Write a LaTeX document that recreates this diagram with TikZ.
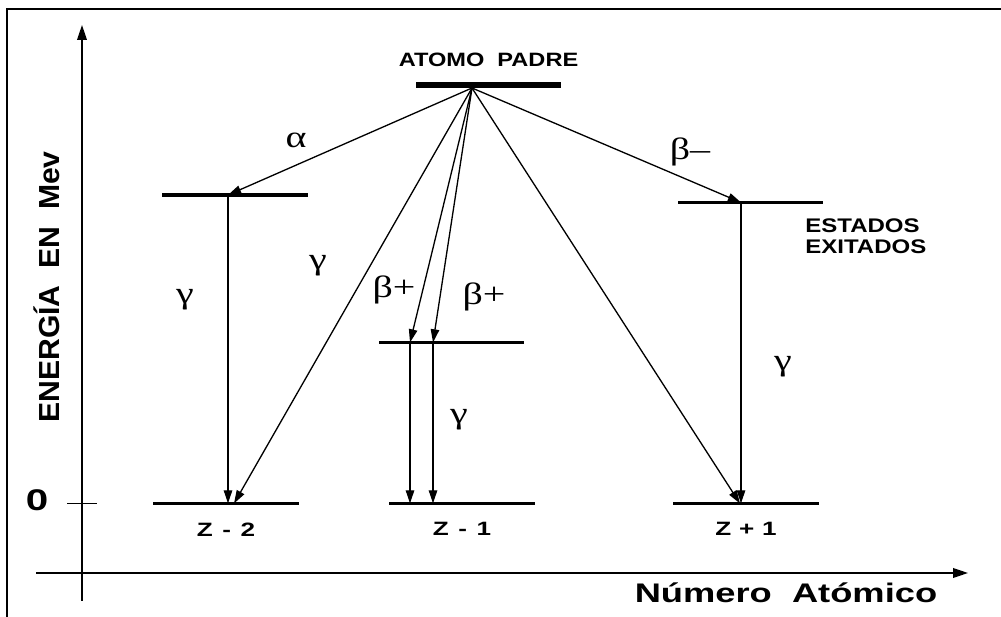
\documentclass[tikz,border=0pt]{standalone}
\usepackage{fontspec}
\setmainfont{Liberation Sans}
\newfontfamily\rotulo[FakeStretch=1.22]{Liberation Sans}
\newfontfamily\ancho[FakeStretch=1.35]{Liberation Sans}
\newfontfamily\eje[FakeStretch=1.04]{Liberation Sans}
\newfontfamily\griego[FakeStretch=1.3]{Liberation Serif}
\usetikzlibrary{arrows.meta, positioning}

\begin{document}
\begin{tikzpicture}[x=0.02cm, y=-0.02cm,
  nivel/.style={fill=black, inner sep=0pt, minimum width=2.92cm, minimum height=0.075cm},
  decae/.style={-{Triangle[length=7.5pt, width=4.8pt]}, line width=0.75pt},
  ejes/.style={-{Triangle[length=8.5pt, width=5.5pt]}, line width=0.9pt},
  griega/.style={inner sep=0pt, font=\griego\fontsize{17.5}{20}\selectfont},
  etiq/.style={inner sep=0pt, font=\ancho\bfseries\fontsize{11}{12.5}\selectfont}]
  \useasboundingbox (0,0) rectangle (1001,617);
  \clip (0,0) rectangle (1001,617);
  \draw [line width=1.4pt] (7,9) rectangle (1015,640);

  % ejes
  \coordinate (ybajo) at (82,601);
  \coordinate (yalto) at (82,25);
  \coordinate (xizq) at (36,573);
  \coordinate (xder) at (968,573);
  \coordinate (cero) at (67,503.5);
  \coordinate (cerob) at (97,503.5);
  \draw [ejes] (ybajo) -- (yalto);
  \draw [ejes] (xizq) -- (xder);
  \draw [line width=0.8pt] (cero) -- (cerob);
  \node [inner sep=0pt, font=\ancho\bfseries\fontsize{17}{18}\selectfont] (lcero) at (37,500.5) {0};
  \node [inner sep=0pt, anchor=base, rotate=90, font=\eje\bfseries\fontsize{16.5}{18}\selectfont] (energia) at (59,287) {ENERGÍA\ \ EN\ \ Mev};
  \node [inner sep=0pt, anchor=base, font=\ancho\bfseries\fontsize{15.3}{17}\selectfont] (numero) at (786,603) {Número\ \ Atómico};

  % niveles
  \node [nivel, minimum height=0.12cm] (padre) at (488.5,85.5) {};
  \node [inner sep=0pt, font=\rotulo\bfseries\fontsize{11}{13}\selectfont, above=0.31cm of padre] {ATOMO\ \ PADRE};
  \node [nivel] (zmexc) at (235,195) {};
  \node [nivel] (zmbase) at (226,503.5) {};
  \node [nivel] (zuexc) at (451.5,342.5) {};
  \node [nivel] (zubase) at (462,503.5) {};
  \node [nivel] (zpexc) at (750.5,202.5) {};
  \node [nivel] (zpbase) at (746,503.5) {};
  \node [etiq, below=0.33cm of zmbase] {Z\hspace{0.5em}-\hspace{0.5em}2};
  \node [etiq, below=0.33cm of zubase] {Z\hspace{0.5em}-\hspace{0.5em}1};
  \node [etiq, below=0.33cm of zpbase] {Z\hspace{0.4em}+\hspace{0.4em}1};
  \node [inner sep=0pt, font=\rotulo\bfseries\fontsize{11.2}{12.3}\selectfont, anchor=north west, align=left] (exitados) at (805,218) {ESTADOS\\EXITADOS};

  % puntos de llegada
  \coordinate (emision) at (472,88);
  \coordinate (alfa) at (228,195);
  \coordinate (alfab) at (228,503.5);
  \coordinate (gdirecta) at (234,503.5);
  \coordinate (bmasa) at (410,342.5);
  \coordinate (bmasb) at (433,342.5);
  \coordinate (bmasc) at (410,503.5);
  \coordinate (bmasd) at (433,503.5);
  \coordinate (bmenos) at (741,202.5);
  \coordinate (bmenosb) at (741,503.5);
  \coordinate (pdirecta) at (740,503.5);

  % desintegraciones
  \draw [decae] (emision) -- (alfa);
  \draw [decae] (alfa) -- (alfab);
  \draw [decae] (emision) -- (gdirecta);
  \draw [decae] (emision) -- (bmasa);
  \draw [decae] (emision) -- (bmasb);
  \draw [decae] (bmasa) -- (bmasc);
  \draw [decae] (bmasb) -- (bmasd);
  \draw [decae] (emision) -- (pdirecta);
  \draw [decae] (emision) -- (bmenos);
  \draw [decae] (bmenos) -- (bmenosb);

  \node [griega] (lalfa) at (296,140) {α};
  \node [griega] (lgizq) at (185,300) {γ};
  \node [griega] (lgmed) at (318,266) {γ};
  \node [griega] (lbmas) at (394,290) {β+};
  \node [griega] (lbmasb) at (484,297) {β+};
  \node [griega] (lgzu) at (459,420) {γ};
  \node [griega] (lbmenos) at (690,152) {β–};
  \node [griega] (lgder) at (783,367) {γ};
\end{tikzpicture}
\end{document}
